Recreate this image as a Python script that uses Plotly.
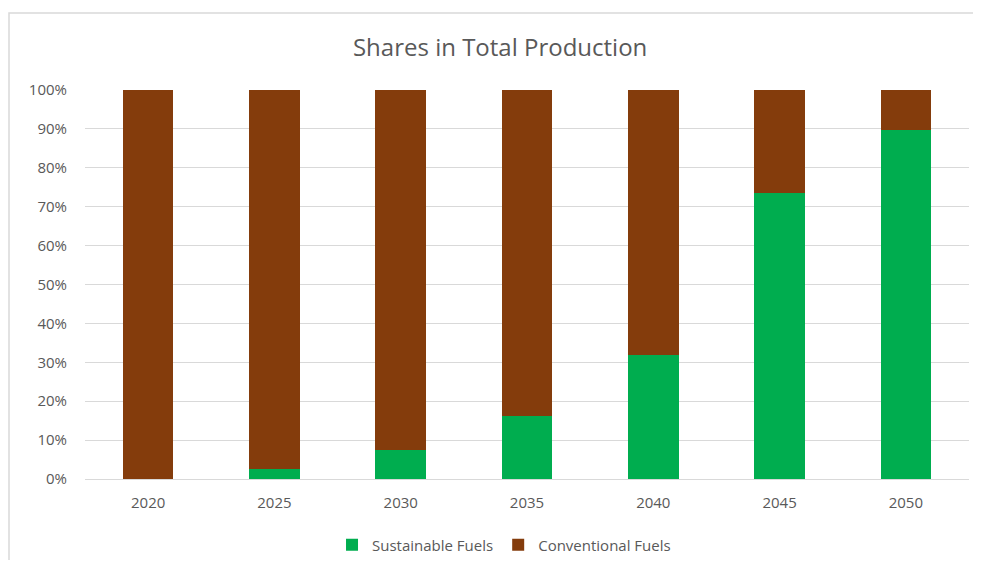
import plotly.graph_objects as go

years = ["2020", "2025", "2030", "2035", "2040", "2045", "2050"]
sustainable = [0.0, 0.027, 0.074, 0.163, 0.319, 0.734, 0.896]
conventional = [1 - v for v in sustainable]
y_ticks = [0, 0.1, 0.2, 0.3, 0.4, 0.5, 0.6, 0.7, 0.8, 0.9, 1.0]

FONT = "Open Sans, Liberation Sans, sans-serif"
GREY = "#595959"
GREEN = "#00ad4f"
BROWN = "#843c0c"

fig = go.Figure()
fig.add_trace(go.Bar(x=years, y=sustainable, name="Sustainable Fuels",
                     marker=dict(color=GREEN, line=dict(width=0))))
fig.add_trace(go.Bar(x=years, y=conventional, name="Conventional Fuels",
                     marker=dict(color=BROWN, line=dict(width=0))))

# the page body has an 8px margin, so the figure is sized to fit inside it
fig.update_layout(
    barmode="stack",
    bargap=0.6,
    width=965, height=552,
    margin=dict(l=77, r=4, t=82, b=81),
    paper_bgcolor="white", plot_bgcolor="white",
    font=dict(family=FONT, color=GREY, size=15),
    title=dict(text="Shares in Total Production", x=0.51, xanchor="center",
               y=0.928, yanchor="middle", yref="container",
               font=dict(family=FONT, size=24, color=GREY)),
    legend=dict(orientation="h", x=0.474, xanchor="center",
                y=1 - (545 - 8) / 552, yanchor="middle", yref="container",
                font=dict(size=15, color=GREY), traceorder="normal",
                itemwidth=30),
    showlegend=True,
)
fig.update_xaxes(showgrid=False, showline=True, linecolor="#d9d9d9", linewidth=1,
                 ticks="", ticklabelstandoff=10, automargin=False,
                 tickfont=dict(size=15, color=GREY))
fig.update_yaxes(range=[0, 1], tickvals=y_ticks, tickformat=".0%",
                 showgrid=True, gridcolor="#d9d9d9", gridwidth=1,
                 zeroline=False, showline=False, ticks="",
                 ticklabelstandoff=17, automargin=False,
                 tickfont=dict(size=15, color=GREY))

# chart frame
fig.add_shape(type="rect", xref="paper", yref="paper",
              x0=(9 - 85) / 884, x1=(995 - 85) / 884,
              y0=(479 - 600) / 389, y1=(479 - 13) / 389,
              line=dict(color="#d9d9d9", width=1.5), fillcolor="rgba(0,0,0,0)",
              layer="below")

fig.write_html("out.html")
